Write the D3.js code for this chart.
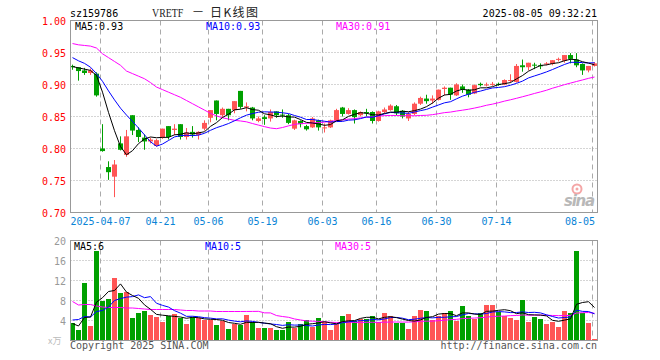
<!DOCTYPE html>
<html><head><meta charset="utf-8">
<script src="https://cdn.jsdelivr.net/npm/d3@7"></script>
<style>body{margin:0;background:#fff}svg{display:block}</style>
</head><body><svg id="c" width="660" height="360"></svg>
<script>
// ---- data ----
const dates = ["03-28","03-31","04-01","04-02","04-03","04-07","04-08","04-09","04-10","04-11",
"04-14","04-15","04-16","04-17","04-18","04-21","04-22","04-23","04-24","04-25",
"04-28","04-29","04-30","05-06","05-07","05-08","05-09","05-12","05-13","05-14",
"05-15","05-16","05-19","05-20","05-21","05-22","05-23","05-26","05-27","05-28",
"05-29","05-30","06-03","06-04","06-05","06-06","06-09","06-10","06-11","06-12",
"06-13","06-16","06-17","06-18","06-19","06-20","06-23","06-24","06-25","06-26",
"06-27","06-30","07-01","07-02","07-03","07-04","07-07","07-08","07-09","07-10",
"07-11","07-14","07-15","07-16","07-17","07-18","07-21","07-22","07-23","07-24",
"07-25","07-28","07-29","07-30","07-31","08-01","08-04","08-05"];
const openP = [0.929,0.927,0.922,0.918,0.917,0.800,0.771,0.756,0.808,0.790,
0.852,0.829,0.817,0.811,0.804,0.817,0.835,0.829,0.838,0.818,
0.826,0.821,0.831,0.848,0.875,0.852,0.862,0.860,0.890,0.864,
0.864,0.843,0.849,0.847,0.858,0.853,0.852,0.831,0.843,0.835,
0.833,0.844,0.832,0.833,0.844,0.864,0.854,0.860,0.852,0.857,
0.857,0.843,0.857,0.860,0.866,0.859,0.847,0.854,0.870,0.878,
0.875,0.876,0.893,0.895,0.883,0.897,0.892,0.886,0.901,0.899,
0.900,0.901,0.900,0.906,0.904,0.930,0.927,0.931,0.930,0.932,
0.932,0.939,0.937,0.946,0.939,0.932,0.922,0.929];
const highP = [0.931,0.927,0.926,0.925,0.919,0.838,0.780,0.782,0.819,0.829,
0.852,0.833,0.822,0.817,0.815,0.831,0.835,0.838,0.838,0.832,
0.835,0.827,0.844,0.860,0.875,0.864,0.862,0.874,0.890,0.872,
0.865,0.850,0.852,0.861,0.858,0.861,0.854,0.845,0.844,0.837,
0.849,0.845,0.839,0.845,0.862,0.865,0.863,0.861,0.858,0.862,
0.858,0.859,0.864,0.869,0.868,0.860,0.857,0.872,0.881,0.884,
0.883,0.892,0.897,0.895,0.902,0.900,0.893,0.900,0.903,0.903,
0.904,0.903,0.908,0.916,0.932,0.939,0.934,0.934,0.933,0.935,
0.938,0.942,0.946,0.949,0.949,0.933,0.929,0.935];
const lowP = [0.923,0.906,0.915,0.915,0.881,0.795,0.751,0.724,0.797,0.787,
0.821,0.810,0.798,0.808,0.803,0.815,0.814,0.821,0.814,0.814,
0.817,0.814,0.828,0.841,0.844,0.849,0.844,0.855,0.862,0.858,
0.844,0.841,0.837,0.842,0.848,0.848,0.838,0.829,0.833,0.828,
0.832,0.828,0.825,0.832,0.843,0.850,0.853,0.839,0.850,0.850,
0.839,0.842,0.855,0.859,0.852,0.847,0.843,0.852,0.868,0.870,
0.870,0.875,0.883,0.876,0.882,0.887,0.880,0.885,0.897,0.897,
0.898,0.898,0.899,0.903,0.903,0.920,0.922,0.924,0.924,0.930,
0.930,0.936,0.934,0.933,0.927,0.915,0.919,0.928];
const closeP = [0.927,0.921,0.918,0.922,0.883,0.796,0.763,0.775,0.798,0.819,
0.828,0.818,0.811,0.814,0.813,0.831,0.818,0.831,0.818,0.825,
0.822,0.826,0.840,0.860,0.854,0.862,0.852,0.874,0.865,0.866,
0.847,0.847,0.846,0.857,0.852,0.852,0.840,0.844,0.838,0.830,
0.847,0.833,0.833,0.844,0.860,0.854,0.860,0.849,0.857,0.855,
0.843,0.858,0.861,0.867,0.855,0.850,0.854,0.870,0.879,0.874,
0.878,0.892,0.895,0.884,0.900,0.892,0.884,0.899,0.899,0.900,
0.901,0.900,0.907,0.907,0.929,0.927,0.934,0.930,0.929,0.933,
0.938,0.940,0.946,0.940,0.930,0.922,0.929,0.933];
const volume = [3.5,2.2,11.6,3.0,18.0,8.0,8.4,12.6,9.6,9.8,
4.6,5.6,6.0,5.2,4.7,3.8,5.0,5.4,4.6,3.4,
4.8,4.6,4.2,4.2,3.2,4.0,2.4,3.4,3.2,5.2,
3.8,2.6,2.6,2.6,2.2,2.2,3.8,2.6,3.4,4.2,
2.8,4.6,3.8,2.2,3.3,5.0,5.4,4.0,4.4,4.4,
5.0,3.8,5.6,5.0,3.5,3.5,2.4,5.0,6.2,6.0,
4.2,5.0,5.6,6.0,4.0,7.0,5.0,4.4,5.6,7.2,
7.2,5.8,5.0,4.6,4.2,8.2,3.8,4.8,4.4,3.4,
3.8,2.8,6.0,5.6,18.0,5.6,3.6,0.2];
const ma5Head = [0.928,0.926,0.924,0.922];
const ma10Head = [0.942,0.937,0.933,0.927,0.917,0.905,0.890,0.876,0.863];
const ma30Head = [0.964,0.962,0.961,0.960,0.957,0.948,0.942,0.936,0.930,0.921,
0.917,0.913,0.909,0.903,0.896,0.892,0.888,0.884,0.880,0.875,
0.870,0.865,0.860,0.855,0.851,0.848,0.846,0.844,0.843];
const vma5Head = [3.4,2.9,4.6,4.7];
const vma10Head = [4.1,4.2,4.8,4.7,5.8,6.0,6.7,8.0,8.4];
const vma30Head = [7.8,7.1,7.2,7.2,6.9,6.7,6.6,6.6,6.6,6.5,
6.5,6.4,6.3,6.2,6.2,6.2,6.2,6.2,6.1,6.0,
6.0,5.9,5.9,5.9,5.8,5.8,5.8,5.8,5.8];
const tickDates = ["04-07","04-21","05-06","05-19","06-03","06-16","06-30","07-14","08-05"];
const tickLabels = ["2025-04-07","04-21","05-06","05-19","06-03","06-16","06-30","07-14","08-05"];
const priceTicks = [1.00,0.95,0.90,0.85,0.80,0.75,0.70];
const volTicks = [20,16,12,8,4];

// ---- drawing ----
const svg = d3.select("#c");
const FONT = "'DejaVu Sans Mono', monospace";
const L = 70.5, R = 597.5, PT = 20.5, PB = 212.5, VT = 240.5, VB = 340.5;
const RED = "#ff5555", GREEN = "#00a000", GRID = "#aaa", BORDER = "#999";
const x = d3.scalePoint().domain(dates).range([72, 594]);
const y = d3.scaleLinear().domain([0.70, 1.00]).range([PB, PT]);
const yv = d3.scaleLinear().domain([0, 20]).range([VB, VT]);

function ma(vals, n, head) {
  return vals.map((v, i) => i < head.length ? head[i] : d3.mean(vals.slice(i - n + 1, i + 1)));
}
const m5 = ma(closeP, 5, ma5Head), m10 = ma(closeP, 10, ma10Head), m30 = ma(closeP, 30, ma30Head);
const v5 = ma(volume, 5, vma5Head), v10 = ma(volume, 10, vma10Head), v30 = ma(volume, 30, vma30Head);

svg.append("defs").html(
  `<clipPath id="cp"><rect x="${L}" y="${PT}" width="${R-L}" height="${PB-PT}"/></clipPath>
   <clipPath id="cv"><rect x="${L}" y="${VT}" width="${R-L}" height="${VB-VT}"/></clipPath>`);

// titles
svg.append("text").attr("x", 70).attr("y", 17).attr("font-family", FONT).attr("font-size", 10)
  .attr("fill", "#000").text("sz159786");
svg.append("text").attr("transform", "translate(152,17) scale(0.76,1)")
  .attr("font-family", "'Liberation Serif', serif")
  .attr("font-size", 13).attr("fill", "#222").text("VRETF");
svg.append("text").attr("x", 193).attr("y", 16).attr("font-family", "'Noto Sans CJK SC', sans-serif")
  .attr("font-size", 10).attr("fill", "#222").text("一");
svg.append("text").attr("x", 210).attr("y", 17).attr("font-family", "'Noto Sans CJK SC', sans-serif")
  .attr("font-size", 12).attr("textLength", 48).attr("fill", "#222").text("日K线图");
svg.append("text").attr("x", 597).attr("y", 17).attr("text-anchor", "end").attr("font-family", FONT)
  .attr("font-size", 10).attr("fill", "#000").text("2025-08-05 09:32:21");

// grids
function panelGrid(top, bottom, ys) {
  svg.append("g").selectAll("line").data(ys).join("line")
    .attr("x1", L).attr("x2", R).attr("y1", d => d).attr("y2", d => d)
    .attr("stroke", GRID).attr("stroke-dasharray", "1,2");
  svg.append("g").selectAll("line").data(tickDates).join("line")
    .attr("x1", d => x(d) - 1.5).attr("x2", d => x(d) - 1.5).attr("y1", top).attr("y2", bottom)
    .attr("stroke", GRID).attr("stroke-dasharray", "5,4");
}
panelGrid(PT, PB, priceTicks.filter(t => t < 0.999 && t > 0.701).map(y));
panelGrid(VT, VB, volTicks.filter(t => t < 20).map(yv));

// price axis labels
svg.append("g").selectAll("text").data(priceTicks).join("text")
  .attr("x", 66).attr("y", d => y(d) + 4).attr("text-anchor", "end").attr("font-family", FONT)
  .attr("font-size", 10).attr("fill", "#f00").text(d => d.toFixed(2));
svg.append("g").selectAll("text").data(volTicks).join("text")
  .attr("x", 66).attr("y", d => yv(d) + 4).attr("text-anchor", "end").attr("font-family", FONT)
  .attr("font-size", 10).attr("fill", "#999").text(d => d);

// date labels
svg.append("g").selectAll("text").data(tickDates).join("text")
  .attr("x", (d, i) => {
    const w = tickLabels[i].length * 6.02;
    return Math.min(x(d) - 1.5, 595 - w / 2);
  })
  .attr("y", 225).attr("text-anchor", "middle").attr("font-family", FONT).attr("font-size", 10)
  .attr("fill", "#0a84d6").text((d, i) => tickLabels[i]);

// sina watermark
const wm = svg.append("g");
wm.append("circle").attr("cx", 577).attr("cy", 189).attr("r", 4.5).attr("fill", "none")
  .attr("stroke", "#f4a6a6").attr("stroke-width", 2);
wm.append("circle").attr("cx", 577).attr("cy", 189).attr("r", 1.5).attr("fill", "#f4a6a6");
wm.append("text").attr("x", 564).attr("y", 206).attr("font-family", "'DejaVu Sans', sans-serif")
  .attr("font-size", 15).attr("font-weight", "bold").attr("font-style", "italic")
  .attr("fill", "#b8b8b8").attr("textLength", 31).text("sina");

// candles
const idx = d3.range(dates.length);
const cg = svg.append("g").attr("clip-path", "url(#cp)");
cg.selectAll("line").data(idx).join("line")
  .attr("x1", i => x(dates[i]) + 0.5).attr("x2", i => x(dates[i]) + 0.5)
  .attr("y1", i => y(highP[i])).attr("y2", i => y(lowP[i]))
  .attr("stroke", i => closeP[i] > openP[i] ? RED : GREEN);
cg.selectAll("rect").data(idx).join("rect")
  .attr("x", i => x(dates[i]) - 2).attr("width", 5)
  .attr("y", i => y(Math.max(openP[i], closeP[i])))
  .attr("height", i => Math.max(1, Math.abs(y(openP[i]) - y(closeP[i]))))
  .attr("fill", i => closeP[i] > openP[i] ? RED : GREEN);

// volume bars
svg.append("g").attr("clip-path", "url(#cv)").selectAll("rect").data(idx).join("rect")
  .attr("x", i => x(dates[i]) - 2).attr("width", 5)
  .attr("y", i => Math.round(yv(volume[i])))
  .attr("height", i => VB - 0.5 - Math.round(yv(volume[i])))
  .attr("fill", i => closeP[i] > openP[i] ? RED : GREEN);

// MA lines
function drawLine(vals, sc, color, clip) {
  svg.append("path").attr("clip-path", clip)
    .attr("d", d3.line().x((v, i) => x(dates[i]) + 0.5).y(v => sc(v))(vals))
    .attr("fill", "none").attr("stroke", color).attr("stroke-width", 1);
}
drawLine(m30, y, "#ff00ff", "url(#cp)");
drawLine(m10, y, "#0000ff", "url(#cp)");
drawLine(m5, y, "#000", "url(#cp)");
drawLine(v30, yv, "#ff00ff", "url(#cv)");
drawLine(v10, yv, "#0000ff", "url(#cv)");
drawLine(v5, yv, "#000", "url(#cv)");

// borders
svg.append("rect").attr("x", L).attr("y", PT).attr("width", R - L).attr("height", PB - PT)
  .attr("fill", "none").attr("stroke", BORDER);
svg.append("rect").attr("x", L).attr("y", VT).attr("width", R - L).attr("height", VB - VT)
  .attr("fill", "none").attr("stroke", BORDER);

// legends
const last = dates.length - 1;
function legend(xp, yp, color, txt) {
  svg.append("text").attr("x", xp).attr("y", yp).attr("font-family", FONT).attr("font-size", 10)
    .attr("fill", color).text(txt);
}
legend(75, 30, "#000", "MA5:" + m5[last].toFixed(2));
legend(206, 30, "#0000ff", "MA10:" + m10[last].toFixed(2));
legend(336, 30, "#ff00ff", "MA30:" + m30[last].toFixed(2));
legend(74, 250, "#000", "MA5:" + Math.floor(v5[last]));
legend(205, 250, "#0000ff", "MA10:" + Math.floor(v10[last]));
legend(335, 250, "#ff00ff", "MA30:" + Math.floor(v30[last]));

// footer
svg.append("text").attr("x", 48).attr("y", 344).attr("font-family", "'Noto Sans CJK SC', sans-serif")
  .attr("font-size", 9).attr("fill", "#bbb").text("x万");
svg.append("text").attr("x", 70).attr("y", 349).attr("font-family", FONT).attr("font-size", 10)
  .attr("fill", "#555").text("Copyright 2025 SINA.COM");
svg.append("text").attr("x", 597).attr("y", 349).attr("text-anchor", "end").attr("font-family", FONT)
  .attr("font-size", 10).attr("fill", "#555").text("http://finance.sina.com.cn");
</script></body></html>
